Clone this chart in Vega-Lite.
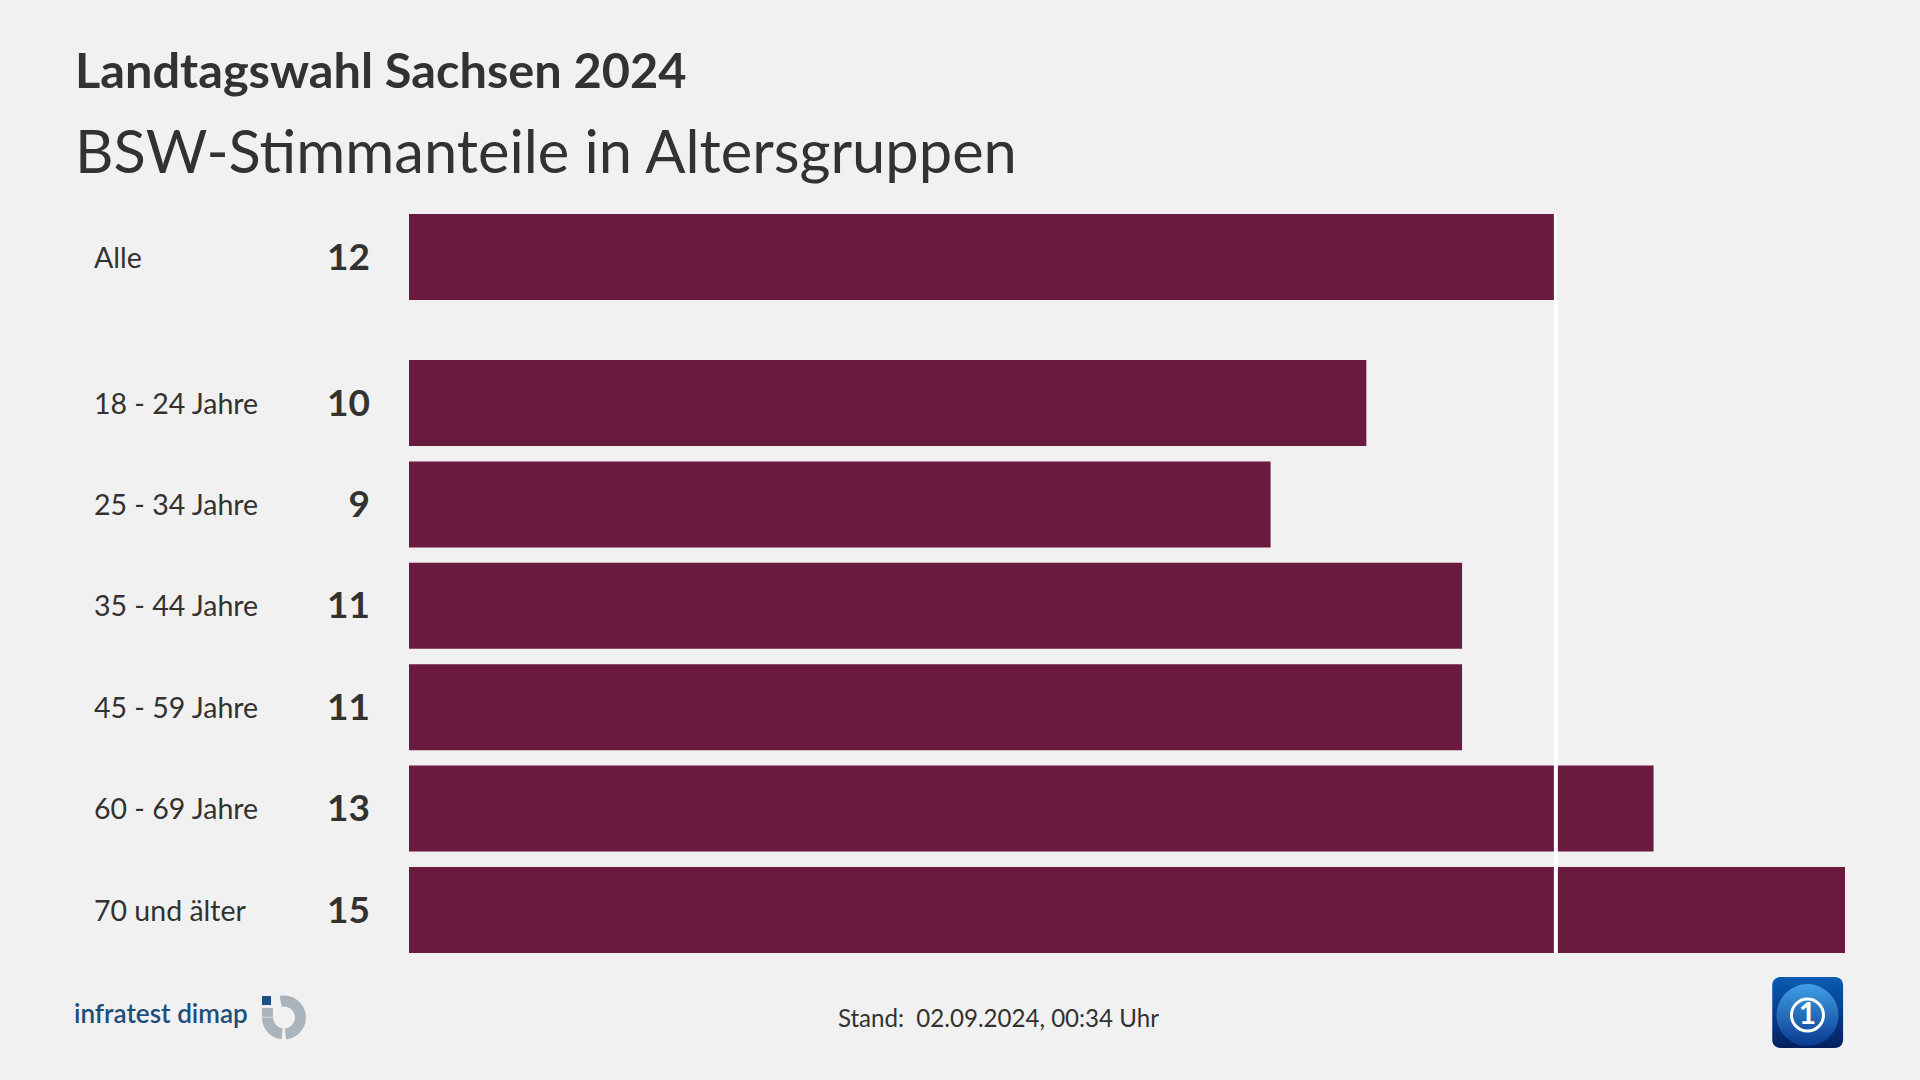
{
  "$schema": "https://vega.github.io/schema/vega-lite/v6.json",
  "description": "BSW-Stimmanteile in Altersgruppen, Landtagswahl Sachsen 2024",
  "width": 1436,
  "height": 739,
  "autosize": {"type": "none"},
  "padding": {"left": 409, "top": 214, "right": 75, "bottom": 127},
  "background": "#f1f1f1",
  "view": {"stroke": null},
  "title": {
    "text": "Landtagswahl Sachsen 2024",
    "subtitle": "BSW-Stimmanteile in Altersgruppen",
    "anchor": "start",
    "frame": "group",
    "dx": -334,
    "offset": 26,
    "font": "Lato",
    "fontSize": 48.7,
    "fontWeight": "bold",
    "color": "#333230",
    "subtitleFont": "Lato",
    "subtitleFontSize": 59.6,
    "subtitleFontWeight": "normal",
    "subtitleColor": "#333230",
    "subtitlePadding": 28
  },
  "data": {
    "values": [
      {"gruppe": "Alle", "rang": 0, "anteil": 12},
      {"gruppe": "18 - 24 Jahre", "rang": 1, "anteil": 10},
      {"gruppe": "25 - 34 Jahre", "rang": 2, "anteil": 9},
      {"gruppe": "35 - 44 Jahre", "rang": 3, "anteil": 11},
      {"gruppe": "45 - 59 Jahre", "rang": 4, "anteil": 11},
      {"gruppe": "60 - 69 Jahre", "rang": 5, "anteil": 13},
      {"gruppe": "70 und älter", "rang": 6, "anteil": 15}
    ]
  },
  "layer": [
    {
      "mark": {"type": "bar", "orient": "horizontal", "size": 86, "color": "#6a193f"},
      "encoding": {
        "x": {
          "field": "anteil",
          "type": "quantitative",
          "stack": null,
          "scale": {"domain": [0, 15], "nice": false, "zero": false, "clamp": false},
          "axis": null
        },
        "y": {
          "field": "rang",
          "type": "quantitative",
          "scale": {"domain": [0, 1, 6], "range": [43, 189, 696], "nice": false, "zero": false, "padding": 0},
          "axis": null
        }
      }
    },
    {
      "data": {"values": [{}]},
      "mark": {"type": "rule", "color": "#ffffff", "strokeWidth": 4},
      "encoding": {"x": {"datum": 11.98, "type": "quantitative", "axis": null}}
    },
    {
      "mark": {"type": "text", "align": "left", "baseline": "middle", "dx": -315, "dy": 1.5, "font": "Lato", "fontSize": 28.5, "color": "#333230"},
      "encoding": {
        "x": {"datum": 0, "type": "quantitative", "axis": null},
        "y": {"field": "rang", "type": "quantitative", "axis": null},
        "text": {"field": "gruppe"}
      }
    },
    {
      "mark": {"type": "text", "align": "right", "baseline": "middle", "dx": -39, "dy": 1.5, "font": "Lato", "fontSize": 37, "fontWeight": "bold", "color": "#333230"},
      "encoding": {
        "x": {"datum": 0, "type": "quantitative", "axis": null},
        "y": {"field": "rang", "type": "quantitative", "axis": null},
        "text": {"field": "anteil", "type": "quantitative"}
      }
    },
    {
      "data": {"values": [{}]},
      "mark": {"type": "text", "align": "left", "baseline": "alphabetic", "font": "Lato", "fontSize": 24.1, "color": "#333230", "text": "Stand:\u00a0 02.09.2024, 00:34 Uhr"},
      "encoding": {
        "x": {"datum": 4.48, "type": "quantitative", "axis": null},
        "y": {"datum": 7.158, "type": "quantitative", "axis": null}
      }
    },
    {
      "data": {"values": [{}]},
      "mark": {"type": "text", "align": "left", "baseline": "alphabetic", "font": "Lato", "fontSize": 26.1, "fontWeight": 600, "color": "#1d4f7c", "text": "infratest dimap"},
      "encoding": {
        "x": {"datum": -3.5, "type": "quantitative", "axis": null},
        "y": {"datum": 7.11, "type": "quantitative", "axis": null}
      }
    },
    {
      "data": {"values": [{}]},
      "mark": {"type": "rect", "color": "#1a4f8a"},
      "encoding": {
        "x": {"datum": -1.536, "type": "quantitative", "axis": null},
        "x2": {"datum": -1.441},
        "y": {"datum": 6.848, "type": "quantitative", "axis": null},
        "y2": {"datum": 6.937}
      }
    },
    {
      "data": {"values": [{}]},
      "mark": {"type": "rect", "color": "#aab4bc"},
      "encoding": {
        "x": {"datum": -1.536, "type": "quantitative", "axis": null},
        "x2": {"datum": -1.421},
        "y": {"datum": 6.966, "type": "quantitative", "axis": null},
        "y2": {"datum": 7.054}
      }
    },
    {
      "data": {"values": [{}]},
      "mark": {"type": "arc", "color": "#aab4bc", "radius": 22, "radius2": 11, "theta": -0.2, "theta2": 3.05},
      "encoding": {
        "x": {"datum": -1.306, "type": "quantitative", "axis": null},
        "y": {"datum": 7.06, "type": "quantitative", "axis": null}
      }
    },
    {
      "data": {"values": [{}]},
      "mark": {"type": "arc", "color": "#aab4bc", "radius": 22, "radius2": 11, "theta": 3.25, "theta2": 4.71},
      "encoding": {
        "x": {"datum": -1.306, "type": "quantitative", "axis": null},
        "y": {"datum": 7.06, "type": "quantitative", "axis": null}
      }
    },
    {
      "data": {"values": [{}]},
      "mark": {
        "type": "rect",
        "cornerRadius": 8,
        "color": {"gradient": "linear", "x1": 0, "y1": 0, "x2": 0, "y2": 1, "stops": [{"offset": 0, "color": "#0a5cb4"}, {"offset": 1, "color": "#04205e"}]}
      },
      "encoding": {
        "x": {"datum": 14.24, "type": "quantitative", "axis": null},
        "x2": {"datum": 14.98},
        "y": {"datum": 6.66, "type": "quantitative", "axis": null},
        "y2": {"datum": 7.36}
      }
    },
    {
      "data": {"values": [{}]},
      "mark": {
        "type": "point",
        "shape": "circle",
        "filled": true,
        "size": 3844,
        "opacity": 1,
        "color": {"gradient": "linear", "x1": 0, "y1": 0, "x2": 0, "y2": 1, "stops": [{"offset": 0, "color": "#3fa0e4"}, {"offset": 1, "color": "#0a3a90"}]}
      },
      "encoding": {
        "x": {"datum": 14.608, "type": "quantitative", "axis": null},
        "y": {"datum": 7.036, "type": "quantitative", "axis": null}
      }
    },
    {
      "data": {"values": [{}]},
      "mark": {"type": "point", "shape": "circle", "filled": false, "size": 1024, "opacity": 1, "color": "#ffffff", "strokeWidth": 3},
      "encoding": {
        "x": {"datum": 14.608, "type": "quantitative", "axis": null},
        "y": {"datum": 7.036, "type": "quantitative", "axis": null}
      }
    },
    {
      "data": {"values": [{}]},
      "mark": {"type": "text", "align": "center", "baseline": "middle", "font": "Lato", "fontSize": 30, "fontWeight": "bold", "color": "#ffffff", "text": "1"},
      "encoding": {
        "x": {"datum": 14.608, "type": "quantitative", "axis": null},
        "y": {"datum": 7.036, "type": "quantitative", "axis": null}
      }
    }
  ]
}
